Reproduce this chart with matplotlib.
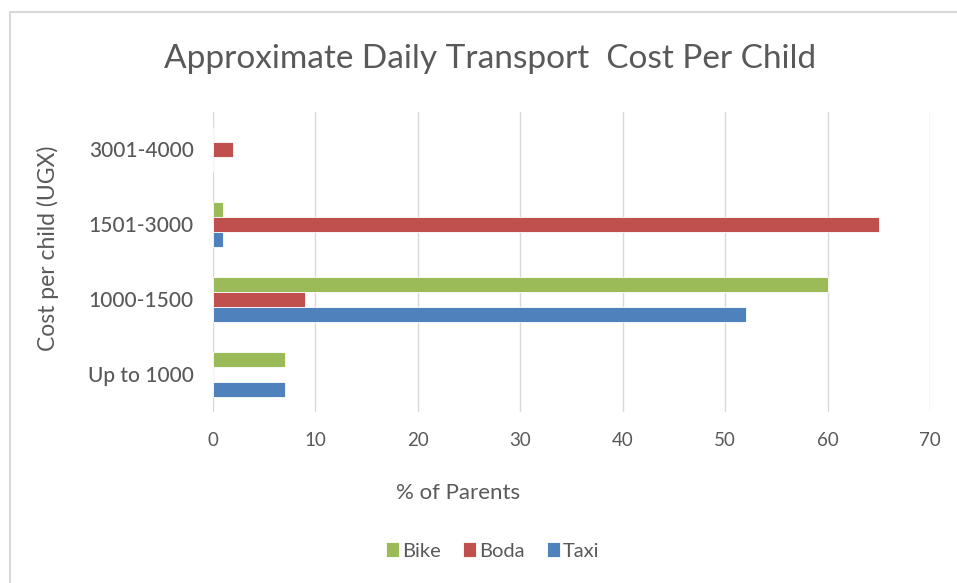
import matplotlib.pyplot as plt
from matplotlib.patches import Rectangle
import numpy as np

categories = ["Up to 1000", "1000-1500", "1501-3000", "3001-4000"]
series = ["Bike", "Boda", "Taxi"]
bike = [7, 60, 1, 0]
boda = [0, 9, 65, 2]
taxi = [7, 52, 1, 0]
colors = {"Bike": "#9BBB59", "Boda": "#C0504D", "Taxi": "#4F81BD"}
xticks = [0, 10, 20, 30, 40, 50, 60, 70]

plt.rcParams['font.family'] = ['Lato', 'DejaVu Sans']
text_color = "#595959"

fig = plt.figure(figsize=(9.57, 5.83), dpi=100)
fig.patch.set_facecolor("white")

# outer chart frame (cropped at right and bottom)
fig.patches.append(Rectangle((10 / 957, -0.05), 1.1, 1 - 12 / 583 + 0.05,
                             transform=fig.transFigure, fill=False,
                             edgecolor="#D9D9D9", linewidth=1.5))

ax = fig.add_axes([213 / 957, 1 - 411.5 / 583, (930 - 213) / 957, (411.5 - 112) / 583])

y = np.arange(len(categories))
h = 0.2
values = {"Bike": bike, "Boda": boda, "Taxi": taxi}
offsets = {"Bike": h, "Boda": 0.0, "Taxi": -h}
for s in series:
    ax.barh(y + offsets[s], values[s], height=h, color=colors[s],
            edgecolor="white", linewidth=0.6, label=s, zorder=3)

ax.set_xlim(0, 70)
ax.set_ylim(-0.5, len(categories) - 0.5)
ax.set_xticks(xticks)
ax.set_xticklabels([str(t) for t in xticks])
ax.set_yticks(y)
ax.set_yticklabels(categories)
ax.grid(axis="x", color="#D9D9D9", linewidth=1, zorder=0)
ax.set_axisbelow(True)
for sp in ax.spines.values():
    sp.set_visible(False)
ax.tick_params(axis="both", length=0, colors=text_color)
ax.tick_params(axis="x", labelsize=13.5, pad=15)
ax.tick_params(axis="y", labelsize=15, pad=14)
for lbl in ax.get_yticklabels():
    lbl.set_fontweight("medium")

fig.text(490 / 957, 1 - 59 / 583, "Approximate Daily Transport  Cost Per Child",
         ha="center", va="center", fontsize=24, color=text_color, fontweight="normal")
fig.text(458 / 957, 1 - 493 / 583, "% of Parents", ha="center", va="center",
         fontsize=16, color=text_color)
fig.text(48 / 957, 1 - 248 / 583, "Cost per child (UGX)", ha="center", va="center",
         rotation=90, fontsize=16.5, color=text_color)

handles, labels = ax.get_legend_handles_labels()
leg = fig.legend(handles, labels, loc="center", bbox_to_anchor=(493 / 957, 1 - 551 / 583),
                 ncol=3, frameon=False, fontsize=14.5, handlelength=0.65,
                 handleheight=0.75, handletextpad=0.15, columnspacing=1.1)
for t in leg.get_texts():
    t.set_color(text_color)

fig.savefig("out.png", dpi=100, facecolor="white")
